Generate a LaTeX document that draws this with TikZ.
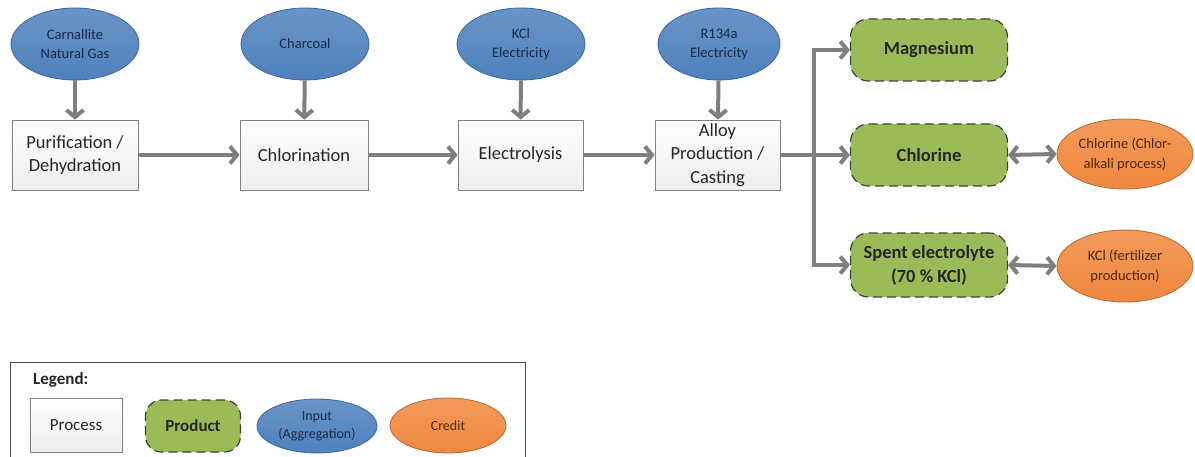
\documentclass[tikz,border=0pt]{standalone}
\usepackage{fontspec}
\setmainfont{Carlito}
\usetikzlibrary{shapes.geometric,arrows.meta}
\definecolor{inblue}{HTML}{4F81BD}
\definecolor{inbluedk}{HTML}{3A669A}
\definecolor{intext}{HTML}{1A2A48}
\definecolor{prgreen}{HTML}{9BBB59}
\definecolor{crorange}{HTML}{F0883E}
\definecolor{crorangedk}{HTML}{B9682E}
\definecolor{crtext}{HTML}{4A2A10}
\definecolor{arrgray}{HTML}{7F7F7F}
\definecolor{boxgray}{HTML}{808080}
\tikzset{
  procbox/.style={draw=boxgray, line width=0.8pt, top color=white, bottom color=black!7,
    minimum width=126pt, minimum height=70pt, inner sep=1pt, align=center, font=\fontsize{18.5}{23.5}\selectfont, text=black!85},
  inputell/.style={ellipse, draw=inbluedk, line width=0.8pt, top color=inblue!85!white, bottom color=inblue,
    minimum width=128pt, minimum height=72pt, inner sep=0pt, align=center, text=intext,
    font=\fontsize{14.5}{19}\selectfont},
  prodbox/.style={rounded corners=18pt, draw=black!75, dashed, dash pattern=on 9pt off 5pt, line width=1.2pt,
    fill=prgreen, minimum width=157pt, minimum height=62pt, align=center,
    font=\bfseries\fontsize{18.5}{24}\selectfont, text=black!85},
  credell/.style={ellipse, draw=crorangedk, line width=0.8pt, top color=crorange!85!white, bottom color=crorange,
    minimum width=136pt, minimum height=70pt, inner sep=0pt, align=center, text=crtext,
    font=\fontsize{14.5}{20}\selectfont},
  tipa/.tip={Straight Barb[length=7pt,width=17pt,line join=miter]},
  flow/.style={draw=arrgray, line width=4pt, -tipa},
  flowline/.style={draw=arrgray, line width=4pt},
  bflow/.style={draw=arrgray, line width=4pt, tipa-tipa},
}
\begin{document}
\begin{tikzpicture}[x=1pt,y=-1pt]
\clip (0,0) rectangle (1195,457);
\fill[white] (0,0) rectangle (1195,457);

% inputs
\node[inputell] (in1) at (75,44) {Carnallite\\Natural Gas};
\node[inputell] (in2) at (305,44) {Charcoal};
\node[inputell] (in3) at (521,44) {KCl\\Electricity};
\node[inputell, minimum width=122pt] (in4) at (719,44) {R134a\\Electricity};

% processes
\node[procbox] (p1) at (75,155) {Purification /\\Dehydration};
\node[procbox, minimum width=128pt] (p2) at (304,155) {Chlorination};
\node[procbox, minimum width=125pt] (p3) at (520.5,155) {Electrolysis};
\node[procbox, minimum width=125pt] (p4) at (717.5,155) {};
\node[align=center, font=\fontsize{18.5}{23.5}\selectfont, text=black!85, inner sep=0pt] (p4t) at (p4.center) {Alloy\\Production /\\Casting};

% products
\node[prodbox] (mag) at (929,50) {Magnesium};
\node[prodbox] (chl) at (929,155) {Chlorine};
\node[prodbox, minimum height=64pt] (spent) at (929,265) {Spent electrolyte\\(70 \% KCl)};

% credits
\node[credell] (c1) at (1125,154) {Chlorine (Chlor-\\alkali process)};
\node[credell, minimum height=72pt] (c2) at (1125,266) {KCl (fertilizer\\production)};

% connectors
\draw[flow] (in1) -- (p1);
\draw[flow] (in2) -- (p2);
\draw[flow] (in3) -- (p3);
\draw[flow] (in4) -- (p4);
\draw[flow] (p1) -- (p2);
\draw[flow] (p2) -- (p3);
\draw[flow] (p3) -- (p4);
\coordinate (jn) at (814,155);
\draw[flowline] (p4.east) -- (jn);
\draw[flow] (jn) |- (mag.west);
\draw[flow] (jn) -- (chl.west);
\draw[flow] (jn) |- (spent.west);
\draw[bflow] (chl.east) -- (c1.west);
\draw[bflow] (spent.east) -- (c2.west);

% legend
\node[draw=black!70, line width=0.8pt, minimum width=515pt, minimum height=110pt, anchor=north west] (leg) at (10,362) {};
\node[anchor=west, font=\bfseries\fontsize{17}{20}\selectfont, text=black!85, inner sep=0pt] (legt) at (33,380) {Legend:};
\node[procbox, minimum width=92pt, minimum height=54pt, font=\fontsize{17}{20}\selectfont] (lp) at (76,425) {Process};
\node[prodbox, minimum width=95pt, minimum height=52pt, rounded corners=16pt, font=\bfseries\fontsize{17}{20}\selectfont] (lpr) at (193,426) {Product};
\node[inputell, minimum width=120pt, minimum height=54pt, font=\fontsize{14}{18}\selectfont] (li) at (317,426) {Input\\(Aggregation)};
\node[credell, minimum width=116pt, minimum height=55pt, font=\fontsize{14}{18}\selectfont] (lc) at (448,425.5) {Credit};
\end{tikzpicture}
\end{document}
